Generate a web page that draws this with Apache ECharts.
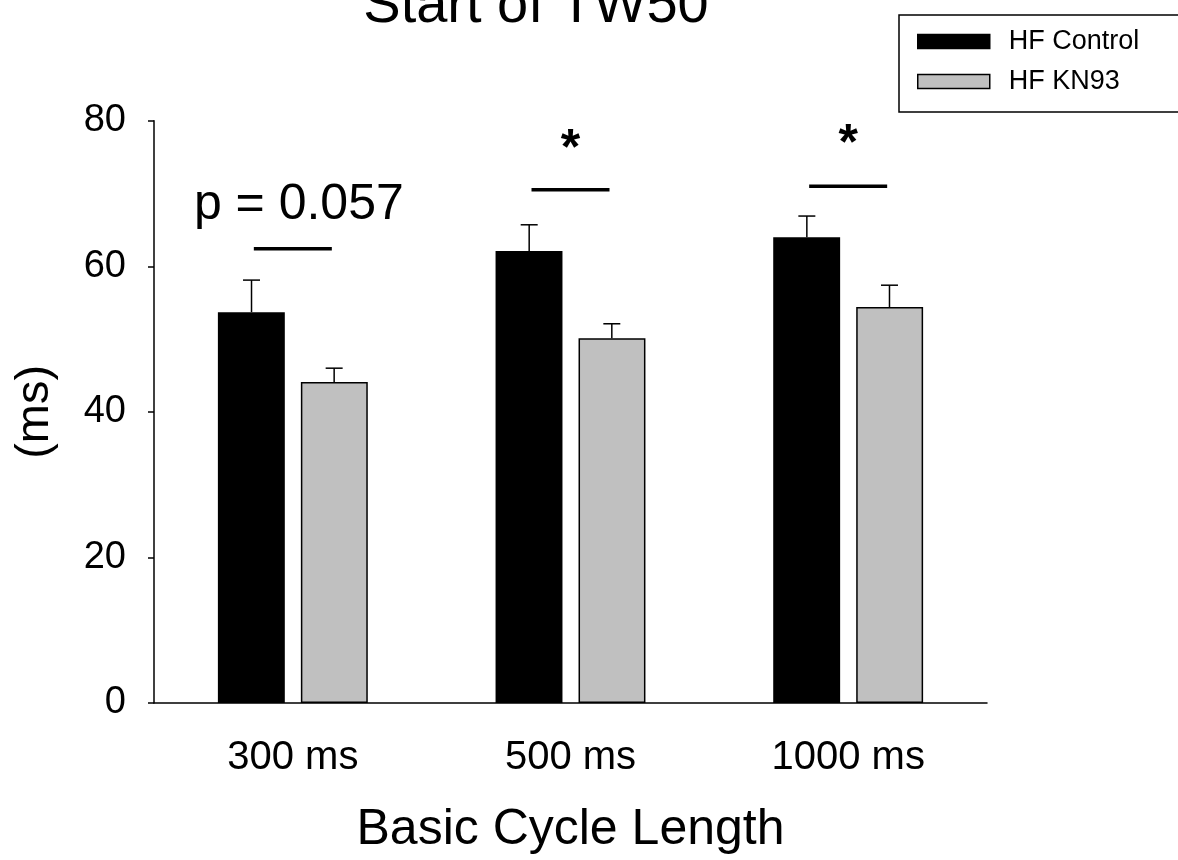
<!DOCTYPE html>
<html>
<head>
<meta charset="utf-8">
<script src="https://cdn.jsdelivr.net/npm/echarts@6/dist/echarts.min.js"></script>
<style>
  html, body { margin: 0; padding: 0; background: #fff; }
  #chart { width: 1178px; height: 860px; }
</style>
</head>
<body>
<div id="chart"></div>
<script>
const categories = ['300 ms', '500 ms', '1000 ms'];
const hfControl = [53.7, 62.1, 64.0];
const hfControlErr = [4.4, 3.6, 2.9];
const hfKn93 = [44.1, 50.1, 54.4];
const hfKn93Err = [1.9, 2.0, 3.0];
// significance bars: line height, label, label height
const sigLineY = [62.4, 70.5, 71.0];
const sigLabels = ['p = 0.057', '*', '*'];
const sigLabelY = [68.4, 76.0, 76.7];

const FONT = '"Liberation Sans", Arial, sans-serif';
const BAR_OFFSET = 0.1488; // (barWidth + barGap) / 2 as a share of the band

function errorBars(side) {
  return function (params, api) {
    const i = api.value(0);
    const base = api.coord([i, api.value(1)]);
    const top = api.coord([i, api.value(1) + api.value(2)]);
    const x = base[0] + side * api.size([1, 0])[0] * BAR_OFFSET;
    const style = {stroke: '#000', lineWidth: 1.5};
    return {
      type: 'group',
      children: [
        {type: 'line', shape: {x1: x, y1: base[1], x2: x, y2: top[1]}, style: style},
        {type: 'line', shape: {x1: x - 8.5, y1: top[1], x2: x + 8.5, y2: top[1]}, style: style}
      ]
    };
  };
}

function sigMarks(params, api) {
  const i = api.value(0);
  const line = api.coord([i, api.value(1)]);
  const label = api.coord([i, api.value(2)]);
  const text = sigLabels[params.dataIndex];
  const isStar = text === '*';
  return {
    type: 'group',
    children: [
      {type: 'line', shape: {x1: line[0] - 39, y1: line[1], x2: line[0] + 39, y2: line[1]},
        style: {stroke: '#000', lineWidth: 3.5}},
      {type: 'text', x: label[0] + (isStar ? 0 : 6), y: label[1],
        style: {text: text, fill: '#000', align: 'center', verticalAlign: 'middle',
          font: (isStar ? 'bold 50px ' : '50px ') + FONT}}
    ]
  };
}

const chart = echarts.init(document.getElementById('chart'));

chart.setOption({
  animation: false,
  backgroundColor: '#fff',
  title: {
    text: 'Start of TW50',
    left: 531,
    top: -26,
    textAlign: 'center',
    textStyle: {fontFamily: FONT, fontSize: 56, fontWeight: 'normal', color: '#000'}
  },
  legend: {
    orient: 'vertical',
    left: 899,
    top: 15,
    padding: [13, 200, 17, 18],
    itemGap: 13,
    itemWidth: 72,
    itemHeight: 14,
    borderColor: '#000',
    borderWidth: 1.5,
    icon: 'rect',
    textStyle: {fontFamily: FONT, fontSize: 27, color: '#000', padding: [0, 0, 0, 14]},
    data: [
      {name: 'HF Control', itemStyle: {color: '#000', borderColor: '#000', borderWidth: 1.5}},
      {name: 'HF KN93', itemStyle: {color: '#c0c0c0', borderColor: '#000', borderWidth: 1.5}}
    ]
  },
  grid: {left: 154, right: 191, top: 120.7, bottom: 155.5},
  xAxis: {
    type: 'category',
    data: categories,
    name: 'Basic Cycle Length',
    nameLocation: 'middle',
    nameGap: 102,
    nameTextStyle: {fontFamily: FONT, fontSize: 50, color: '#000'},
    axisLine: {lineStyle: {color: '#000', width: 1.5}},
    axisTick: {alignWithLabel: true, length: 8, lineStyle: {color: '#000', width: 1.5}},
    axisLabel: {fontFamily: FONT, fontSize: 40, color: '#000', margin: 35}
  },
  yAxis: {
    type: 'value',
    min: 0,
    max: 80,
    interval: 20,
    name: '(ms)',
    nameLocation: 'middle',
    nameGap: 95,
    nameTextStyle: {fontFamily: FONT, fontSize: 47, color: '#000'},
    axisLine: {show: true, lineStyle: {color: '#000', width: 1.5}},
    axisTick: {show: true, length: 6, lineStyle: {color: '#000', width: 1.5}},
    splitLine: {show: false},
    axisLabel: {fontFamily: FONT, fontSize: 38, color: '#000', margin: 28}
  },
  series: [
    {
      name: 'HF Control',
      type: 'bar',
      data: hfControl,
      barWidth: '24.1%',
      barGap: '24%',
      itemStyle: {color: '#000', borderColor: '#000', borderWidth: 1.5}
    },
    {
      name: 'HF KN93',
      type: 'bar',
      data: hfKn93,
      barWidth: '24.1%',
      barGap: '24%',
      itemStyle: {color: '#c0c0c0', borderColor: '#000', borderWidth: 1.5}
    },
    {
      type: 'custom',
      renderItem: errorBars(-1),
      data: hfControl.map((v, i) => [i, v, hfControlErr[i]]),
      z: 5
    },
    {
      type: 'custom',
      renderItem: errorBars(1),
      data: hfKn93.map((v, i) => [i, v, hfKn93Err[i]]),
      z: 5
    },
    {
      type: 'custom',
      renderItem: sigMarks,
      data: sigLineY.map((v, i) => [i, v, sigLabelY[i]]),
      z: 6
    }
  ]
});
</script>
</body>
</html>
